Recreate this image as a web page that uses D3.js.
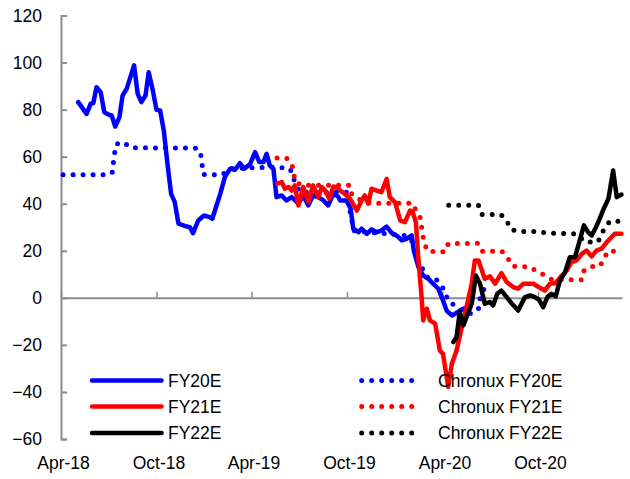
<!DOCTYPE html>
<html>
<head>
<meta charset="utf-8">
<script src="https://cdn.jsdelivr.net/npm/d3@7"></script>
<style>
  html, body { margin: 0; padding: 0; background: #fff; }
  svg { display: block; font-family: 'Liberation Sans', Arial, sans-serif; }
</style>
</head>
<body>
<div id="chart"></div>
<script>
// consensus EPS revision series (date, value)
const fy20e = [
  ['2018-05-04', 83.2], ['2018-05-20', 78.2], ['2018-05-28', 82.5], ['2018-06-02', 82.8],
  ['2018-06-08', 89.5], ['2018-06-16', 87.4], ['2018-06-23', 78.9], ['2018-07-01', 77.9],
  ['2018-07-07', 77.5], ['2018-07-14', 72.8], ['2018-07-22', 76.8], ['2018-07-28', 86],
  ['2018-08-05', 88.9], ['2018-08-19', 98.8], ['2018-08-26', 86.7], ['2018-09-02', 83.2],
  ['2018-09-10', 86], ['2018-09-16', 95.9], ['2018-09-24', 88.1], ['2018-10-01', 79.9],
  ['2018-10-08', 79.6], ['2018-10-15', 71.1], ['2018-10-22', 57], ['2018-10-29', 44.2],
  ['2018-11-05', 40.7], ['2018-11-12', 31.5], ['2018-11-28', 30.3], ['2018-12-04', 30],
  ['2018-12-10', 27.5], ['2018-12-20', 32.9], ['2018-12-31', 35], ['2019-01-11', 34.3],
  ['2019-01-16', 33.6], ['2019-01-21', 37.1], ['2019-01-31', 44.1], ['2019-02-09', 51.3],
  ['2019-02-19', 54.9], ['2019-02-28', 54.4], ['2019-03-10', 57.2], ['2019-03-18', 54.9],
  ['2019-03-29', 56.7], ['2019-04-08', 61.9], ['2019-04-16', 57.7], ['2019-04-24', 57.7],
  ['2019-04-30', 61.2], ['2019-05-06', 56.3], ['2019-05-13', 54.9], ['2019-05-19', 42.8],
  ['2019-05-29', 43.5], ['2019-06-07', 41.4], ['2019-06-17', 42.8], ['2019-06-30', 40],
  ['2019-07-09', 43.5], ['2019-07-19', 39.3], ['2019-07-28', 43.5], ['2019-08-07', 42.8],
  ['2019-08-17', 41.4], ['2019-08-26', 39.3], ['2019-09-05', 44.2], ['2019-09-14', 43.1],
  ['2019-09-18', 41.4], ['2019-09-30', 41.4], ['2019-10-08', 37.9], ['2019-10-13', 29.4],
  ['2019-10-23', 27.9], ['2019-10-29', 29.4], ['2019-11-08', 27.2], ['2019-11-17', 29.1],
  ['2019-11-27', 27.9], ['2019-12-06', 28.6], ['2019-12-16', 30.3], ['2019-12-26', 27.5],
  ['2020-01-04', 26.5], ['2020-01-14', 24.4], ['2020-01-23', 25.1], ['2020-02-02', 26.5],
  ['2020-02-06', 20.1], ['2020-02-15', 13], ['2020-02-24', 9.5], ['2020-03-05', 8.1],
  ['2020-03-14', 6], ['2020-03-24', 3.9], ['2020-04-02', -1.1], ['2020-04-09', -5.4],
  ['2020-04-19', -7.5], ['2020-05-01', -6], ['2020-05-11', -4.6], ['2020-05-20', -4]
];

const fy21e = [
  ['2019-05-20', 48.5], ['2019-05-29', 49.2], ['2019-06-04', 46.4], ['2019-06-11', 47.1],
  ['2019-06-17', 45.6], ['2019-06-23', 47.8], ['2019-06-30', 39.3], ['2019-07-09', 47.1],
  ['2019-07-19', 40.7], ['2019-07-28', 47.8], ['2019-08-07', 42.8], ['2019-08-14', 47.1],
  ['2019-08-20', 45.6], ['2019-08-28', 42.1], ['2019-09-05', 47.3], ['2019-09-14', 46.8],
  ['2019-09-18', 45.6], ['2019-09-27', 44.2], ['2019-10-07', 42.1], ['2019-10-20', 37.1],
  ['2019-10-29', 41.4], ['2019-11-04', 43.5], ['2019-11-11', 40], ['2019-11-17', 46.4],
  ['2019-11-27', 45.6], ['2019-12-06', 44.9], ['2019-12-16', 50.6], ['2019-12-22', 42.8],
  ['2020-01-01', 40.7], ['2020-01-11', 32.9], ['2020-01-20', 32.2], ['2020-01-30', 37.1],
  ['2020-02-04', 36.4], ['2020-02-10', 32.2], ['2020-02-15', 15.9], ['2020-02-21', 0.3],
  ['2020-02-24', -9.6], ['2020-03-02', -4.6], ['2020-03-08', -9.6], ['2020-03-18', -11],
  ['2020-03-27', -22.4], ['2020-04-02', -23.8], ['2020-04-12', -37.9], ['2020-04-19', -28],
  ['2020-04-28', -22.4], ['2020-05-08', -12.5], ['2020-05-17', -4], ['2020-05-27', 6],
  ['2020-06-02', 15.9], ['2020-06-09', 15.9], ['2020-06-21', 8.1], ['2020-07-01', 9.1],
  ['2020-07-11', 6], ['2020-07-23', 10.5], ['2020-08-02', 6.7], ['2020-08-15', 4.5],
  ['2020-08-24', 3.9], ['2020-09-03', 6], ['2020-09-22', 6], ['2020-10-03', 4.5],
  ['2020-10-14', 3.1], ['2020-10-24', 6], ['2020-11-03', 6.2], ['2020-11-13', 8.8],
  ['2020-11-25', 11.6], ['2020-12-04', 15.2], ['2020-12-14', 15.9], ['2020-12-24', 18.7],
  ['2021-01-02', 20.1], ['2021-01-12', 17.6], ['2021-01-21', 20.1], ['2021-01-31', 20.9],
  ['2021-02-10', 23.7], ['2021-02-19', 25.8], ['2021-02-25', 27.2], ['2021-03-10', 27.2]
];

const fy22e = [
  ['2020-04-22', -18.8], ['2020-04-28', -16.7], ['2020-05-04', -6.1], ['2020-05-11', -11.7],
  ['2020-05-17', -8.2], ['2020-05-27', -2.5], ['2020-06-04', 9.5], ['2020-06-12', 6],
  ['2020-06-21', -2.5], ['2020-07-01', -1.8], ['2020-07-07', -3.2], ['2020-07-15', 1.7],
  ['2020-07-23', 3.1], ['2020-08-02', 0.3], ['2020-08-12', -2.5], ['2020-08-24', -5.4],
  ['2020-09-06', 0.3], ['2020-09-16', 1], ['2020-09-25', 0.3], ['2020-10-03', -0.8],
  ['2020-10-11', -4], ['2020-10-19', 0.3], ['2020-10-27', 1.7], ['2020-11-04', 0.6],
  ['2020-11-12', 7.4], ['2020-11-22', 10.9], ['2020-12-01', 17.3], ['2020-12-11', 17.3],
  ['2020-12-20', 24.4], ['2020-12-28', 30.8], ['2021-01-05', 27.9], ['2021-01-12', 26.5],
  ['2021-01-20', 30], ['2021-01-26', 32.9], ['2021-02-04', 37.9], ['2021-02-13', 42.1],
  ['2021-02-22', 54.1], ['2021-03-01', 42.8], ['2021-03-10', 43.9]
];

const chronuxFy20e = [
  ['2018-04-05', 52.3], ['2018-06-21', 52.3], ['2018-07-08', 53], ['2018-07-10', 57],
  ['2018-07-15', 65.2], ['2018-07-29', 66.2], ['2018-08-13', 63.8], ['2018-12-18', 63.6],
  ['2018-12-25', 60.5], ['2018-12-30', 52.4], ['2019-02-04', 52.3], ['2019-02-19', 55],
  ['2019-05-19', 55.5], ['2019-06-14', 54.9], ['2019-06-20', 51.3], ['2019-06-23', 49.2],
  ['2019-07-03', 44.9], ['2019-09-30', 44.9], ['2019-10-14', 28.5], ['2020-01-20', 26.5],
  ['2020-02-01', 25], ['2020-02-14', 16], ['2020-03-02', 8.8], ['2020-03-19', 8.1],
  ['2020-04-06', 2.9], ['2020-04-11', -1.1], ['2020-05-09', -5.6], ['2020-05-27', -6.8],
  ['2020-06-09', -4.6], ['2020-06-12', -0.4], ['2020-06-23', 5.7]
];

const chronuxFy21e = [
  ['2019-05-20', 59.4], ['2019-06-07', 59.4], ['2019-06-17', 57.2], ['2019-06-21', 53.4],
  ['2019-06-23', 49.5], ['2019-07-06', 47.8], ['2019-10-07', 47.8], ['2019-10-10', 44.2],
  ['2019-11-01', 40.7], ['2019-11-20', 40.2], ['2020-02-04', 40.2], ['2020-02-10', 37.1],
  ['2020-02-18', 34.3], ['2020-02-21', 30], ['2020-02-24', 25.8], ['2020-03-02', 20.1],
  ['2020-03-21', 19.4], ['2020-04-06', 19.6], ['2020-04-12', 23], ['2020-06-09', 23.2],
  ['2020-06-17', 19.8], ['2020-07-24', 19.8], ['2020-08-04', 17], ['2020-08-13', 13.5],
  ['2020-09-17', 13], ['2020-09-30', 10.9], ['2020-10-16', 9.5], ['2020-10-28', 7.7],
  ['2020-12-24', 7.7], ['2020-12-27', 11.3], ['2021-01-09', 13.3], ['2021-01-26', 13.3],
  ['2021-02-04', 15.9], ['2021-02-11', 19.8], ['2021-03-02', 19.8]
];

const chronuxFy22e = [
  ['2020-04-13', 39.3], ['2020-06-09', 39.3], ['2020-06-15', 35.4], ['2020-07-22', 35.4],
  ['2020-08-02', 32.9], ['2020-08-10', 29.1], ['2020-08-26', 28.2], ['2020-09-30', 28.2],
  ['2020-10-18', 27.5], ['2020-12-14', 27.2], ['2020-12-30', 23.7], ['2021-01-24', 23.7],
  ['2021-02-06', 29.9], ['2021-02-16', 32.6], ['2021-03-07', 32.6]
];

const xTickDates = ['2018-04-01', '2018-10-01', '2019-04-01', '2019-10-01', '2020-04-01', '2020-10-01'];
const yTickValues = [-60, -40, -20, 0, 20, 40, 60, 80, 100, 120];

const series = [
  {name: 'FY20E', data: fy20e, color: '#0000ff', dotted: false},
  {name: 'Chronux FY20E', data: chronuxFy20e, color: '#0000ff', dotted: true},
  {name: 'FY21E', data: fy21e, color: '#ff0000', dotted: false},
  {name: 'Chronux FY21E', data: chronuxFy21e, color: '#ff0000', dotted: true},
  {name: 'FY22E', data: fy22e, color: '#000000', dotted: false},
  {name: 'Chronux FY22E', data: chronuxFy22e, color: '#000000', dotted: true},
];

const width = 630;
const height = 479;
const fontSize = '17.5px';
const parse = d3.timeParse('%Y-%m-%d');
const axisColor = '#8c8c8c';

const x = d3.scaleTime()
  .domain([parse('2018-04-01'), parse('2021-03-11')])
  .range([61, 622]);

const y = d3.scaleLinear().domain([-60, 120]).range([439, 15.5]);

const svg = d3.select('#chart')
  .append('svg')
  .attr('width', width)
  .attr('height', height);

// y axis, ticks point inward
const yAxis = svg.append('g')
  .attr('transform', `translate(${x.range()[0]},0)`)
  .call(d3.axisLeft(y).tickValues(yTickValues).tickSize(-6).tickPadding(19).tickFormat(d3.format('d')));
yAxis.select('.domain').attr('stroke', axisColor).attr('stroke-width', 2);
yAxis.selectAll('.tick line').attr('stroke', axisColor).attr('stroke-width', 2);
yAxis.selectAll('text').attr('fill', '#000').style('font-size', fontSize);

// zero line with upward ticks
const zeroAxis = svg.append('g')
  .attr('transform', `translate(0,${y(0)})`)
  .call(d3.axisBottom(x).tickValues(xTickDates.map(parse)).tickSize(-6).tickSizeOuter(0).tickFormat(''));
zeroAxis.select('.domain').attr('stroke', axisColor).attr('stroke-width', 2);
zeroAxis.selectAll('.tick line').attr('stroke', axisColor).attr('stroke-width', 1.5);

// month labels along the bottom
const labelAxis = svg.append('g')
  .attr('transform', `translate(2,455)`)
  .call(d3.axisBottom(x).tickValues(xTickDates.map(parse)).tickSize(0).tickPadding(2)
    .tickFormat(d3.timeFormat('%b-%y')));
labelAxis.select('.domain').remove();
labelAxis.selectAll('text').attr('fill', '#000').style('font-size', fontSize);

const line = d3.line()
  .x(d => x(parse(d[0])))
  .y(d => y(d[1]));

series.forEach(s => {
  svg.append('path')
    .datum(s.data)
    .attr('fill', 'none')
    .attr('stroke', s.color)
    .attr('stroke-width', s.dotted ? 5 : 4.5)
    .attr('stroke-linejoin', 'round')
    .attr('stroke-linecap', 'round')
    .attr('stroke-dasharray', s.dotted ? '0 10' : null)
    .attr('d', line);
});

// legend: solid series on the left, Chronux on the right
const legend = svg.append('g').style('font-size', fontSize);
const legendRows = [380.5, 406.5, 433];
series.forEach((s, i) => {
  const row = legendRows[Math.floor(i / 2)];
  const x0 = s.dotted ? 361.7 : 92;
  const x1 = s.dotted ? 421.7 : 161.5;
  legend.append('line')
    .attr('x1', x0).attr('x2', x1)
    .attr('y1', row).attr('y2', row)
    .attr('stroke', s.color)
    .attr('stroke-width', s.dotted ? 5 : 4.5)
    .attr('stroke-linecap', 'round')
    .attr('stroke-dasharray', s.dotted ? '0 10' : null);
  legend.append('text')
    .attr('x', s.dotted ? 438 : 168)
    .attr('y', row)
    .attr('dy', '0.36em')
    .attr('fill', '#000')
    .text(s.name);
});
</script>
</body>
</html>
